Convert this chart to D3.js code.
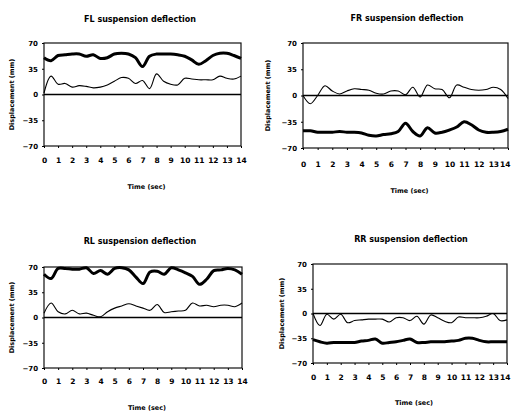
<!DOCTYPE html>
<head>
<meta charset="utf-8">
<title>Suspension deflection</title>
<script src="https://d3js.org/d3.v7.min.js"></script>
<style>
  body { margin: 0; background: #fff; }
  text { font-family: "DejaVu Sans", Arial, sans-serif; font-weight: bold; fill: #000; }
</style>
</head>
<body>
<div id="vis"></div>
<script>
// time axis (sec), 0.5 s steps
var times = d3.range(0, 14.01, 0.5);
var xTicks = d3.range(0, 15);
var yTicks = [70, 35, 0, -35, -70];

// FL
var flThick = [50, 46, 53, 54, 55, 55, 52, 54, 49, 50, 55, 56, 55, 50, 38, 52, 55, 55, 55, 54, 52, 47, 41, 46, 53, 56, 56, 53, 49];
var flThin  = [2, 25, 14, 15, 10, 12, 11, 9, 10, 13, 18, 23, 22, 15, 19, 8, 28, 18, 14, 13, 22, 21, 20, 20, 20, 25, 22, 21, 25];
// FR
var frThick = [-47, -47, -49, -49, -49, -48, -49, -49, -50, -53, -54, -52, -51, -48, -37, -48, -54, -43, -50, -49, -46, -42, -35, -39, -46, -49, -49, -48, -45];
var frThin  = [0, -11, 0, 13, 6, 2, 6, 9, 8, 7, 3, 2, 6, 6, 1, 11, -2, 14, 9, 8, -3, 14, 11, 8, 7, 8, 11, 8, -4];
// RL
var rlThick = [60, 54, 68, 68, 67, 67, 69, 61, 65, 60, 68, 69, 66, 56, 47, 63, 64, 60, 69, 66, 62, 57, 46, 53, 65, 66, 68, 66, 60];
var rlThin  = [6, 20, 8, 5, 10, 5, 6, 3, 1, 8, 13, 16, 19, 16, 13, 10, 18, 7, 8, 9, 10, 20, 16, 17, 15, 17, 17, 15, 20];
// RR
var rrThick = [-37, -40, -42, -41, -41, -41, -41, -39, -38, -36, -42, -41, -40, -38, -36, -41, -41, -40, -40, -40, -39, -38, -35, -35, -38, -40, -40, -40, -40];
var rrThin  = [0, -17, -1, -8, -1, -13, -10, -9, -8, -8, -8, -12, -6, -6, -10, -4, -15, -2, -6, -11, -13, -5, -6, -6, -6, -4, 0, -10, -9];

var panels = [
  {title: "FL suspension deflection", thick: flThick, thin: flThin,
   x0: 44, x1: 241, y0: 43, y1: 146, tx: 140, ty: 22, tickY: 162, timeY: 189, labX: 14},
  {title: "FR suspension deflection", thick: frThick, thin: frThin,
   x0: 303, x1: 508, y0: 43, y1: 148, tx: 407, ty: 21, tickY: 166, timeY: 193, labX: 270},
  {title: "RL suspension deflection", thick: rlThick, thin: rlThin,
   x0: 44, x1: 242, y0: 267, y1: 368, tx: 140, ty: 244, tickY: 383, timeY: 410, labX: 14},
  {title: "RR suspension deflection", thick: rrThick, thin: rrThin,
   x0: 313, x1: 507, y0: 264, y1: 363, tx: 411, ty: 242, tickY: 379, timeY: 405, labX: 284}
];

var svg = d3.select("#vis").append("svg")
    .attr("width", 511)
    .attr("height", 412);

panels.forEach(function(p) {
  var x = d3.scaleLinear().domain([0, 14]).range([p.x0, p.x1]);
  var y = d3.scaleLinear().domain([-70, 70]).range([p.y1, p.y0]);
  var g = svg.append("g");

  g.append("text")
    .attr("x", p.tx).attr("y", p.ty)
    .attr("text-anchor", "middle")
    .style("font-size", "8px")
    .text(p.title);

  // frame
  g.append("rect")
    .attr("x", p.x0).attr("y", p.y0)
    .attr("width", p.x1 - p.x0).attr("height", p.y1 - p.y0)
    .attr("fill", "none").attr("stroke", "#111").attr("stroke-width", 1.2);

  // zero line
  g.append("line")
    .attr("x1", p.x0).attr("x2", p.x1)
    .attr("y1", y(0)).attr("y2", y(0))
    .attr("stroke", "#000").attr("stroke-width", 1.3);

  var yAxis = g.append("g")
    .attr("transform", "translate(" + p.x0 + ",0)")
    .call(d3.axisLeft(y).tickValues(yTicks).tickSize(2).tickPadding(4));
  yAxis.select(".domain").remove();
  yAxis.selectAll("text").style("font-size", "7px");

  var xAxis = g.append("g")
    .attr("transform", "translate(0," + p.y1 + ")")
    .call(d3.axisBottom(x).tickValues(xTicks).tickSize(2).tickPadding(p.tickY - p.y1 - 6));
  xAxis.select(".domain").remove();
  xAxis.selectAll("text").style("font-size", "7.5px");
  // right-hand panels sit on the page edge: keep the last label inside
  if (p.x1 > 500) {
    xAxis.selectAll(".tick").filter(function(d) { return d === 14; })
      .select("text").attr("text-anchor", "end").attr("x", 510 - p.x1);
  }

  g.append("text")
    .attr("x", (p.x0 + p.x1) / 2 + 4).attr("y", p.timeY)
    .attr("text-anchor", "middle")
    .style("font-size", "6.5px")
    .text("Time (sec)");

  g.append("text")
    .attr("transform", "translate(" + p.labX + "," + ((p.y0 + p.y1) / 2) + ") rotate(-90)")
    .attr("text-anchor", "middle")
    .style("font-size", "6.5px")
    .text("Displacement (mm)");

  var line = d3.line()
    .x(function(d, i) { return x(times[i]); })
    .y(function(d) { return y(d); })
    .curve(d3.curveCatmullRom);

  g.append("path")
    .attr("d", line(p.thin))
    .attr("fill", "none").attr("stroke", "#000").attr("stroke-width", 1.1);

  g.append("path")
    .attr("d", line(p.thick))
    .attr("fill", "none").attr("stroke", "#000").attr("stroke-width", 3);
});
</script>
</body>
